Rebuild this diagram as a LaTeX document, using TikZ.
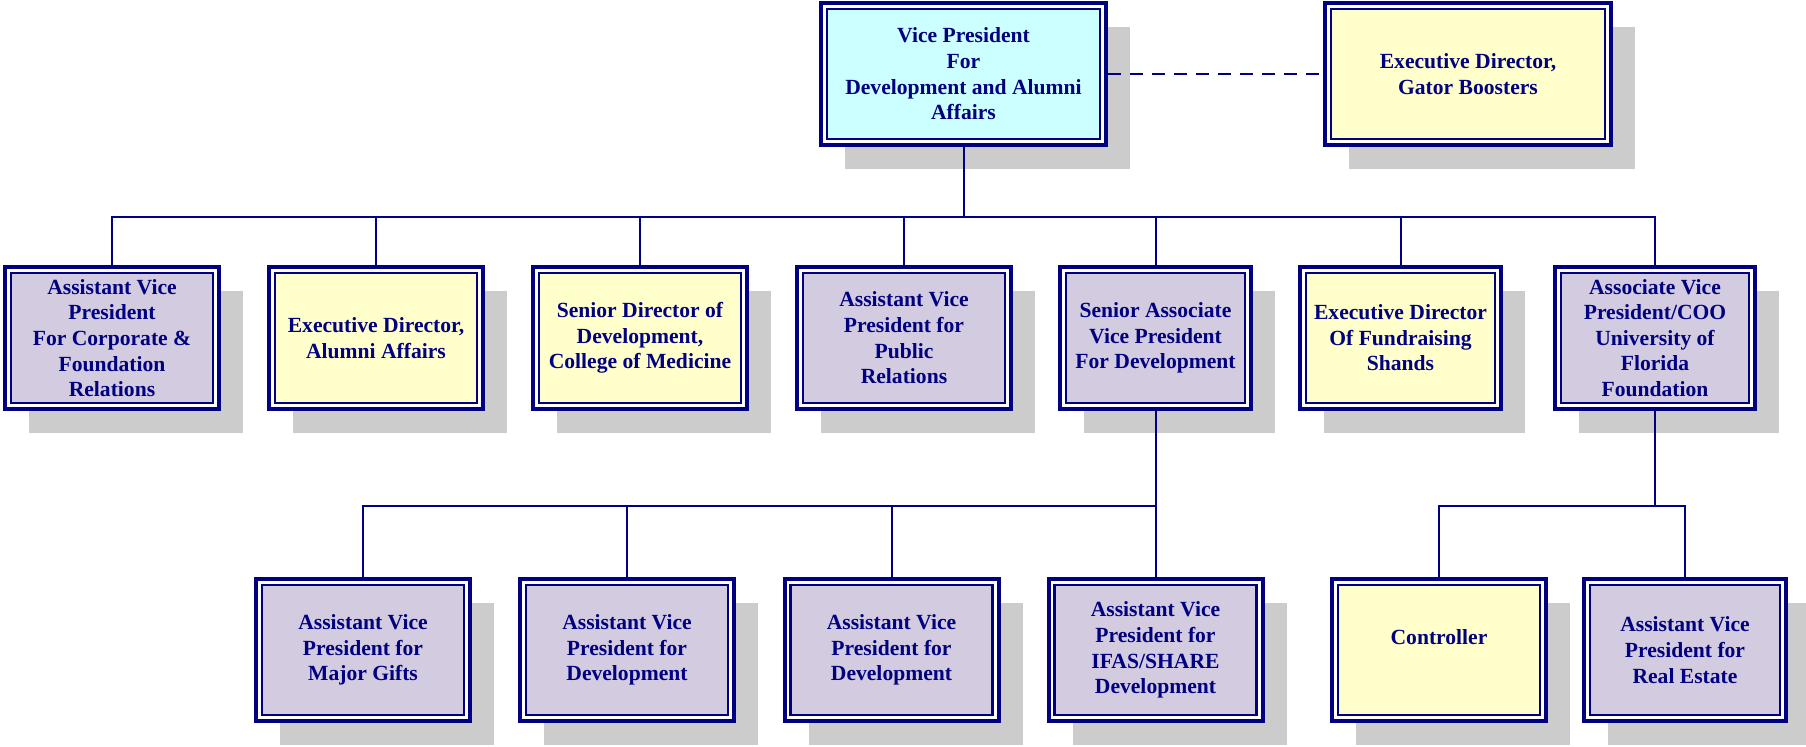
\documentclass[tikz,border=0pt]{standalone}
\usepackage{fontspec}
\setmainfont{Liberation Serif}
\usetikzlibrary{shadows}
\definecolor{navy}{RGB}{0,0,128}
\definecolor{lav}{RGB}{211,203,224}
\definecolor{ylw}{RGB}{255,255,204}
\definecolor{cyn}{RGB}{204,255,255}
\definecolor{shade}{RGB}{204,204,204}
\tikzset{
  box/.style={draw=navy, line width=2pt, fill=white, minimum width=107pt, minimum height=71pt,
    inner sep=2pt, align=center, text=navy, font=\bfseries\fontsize{10.8}{12.8}\selectfont,
    drop shadow={shadow xshift=12pt, shadow yshift=-12pt, fill=shade, opacity=1},
    path picture={\draw[navy, line width=1.3pt, fill=#1]
      ([shift={(3pt,3pt)}]path picture bounding box.south west) rectangle
      ([shift={(-3pt,-3pt)}]path picture bounding box.north east);}},
  conn/.style={draw=navy, line width=1pt}
}
\begin{document}
\begin{tikzpicture}[x=0.5pt,y=-0.5pt]
   \useasboundingbox (0,0) rectangle (1806,746);

   \node[box=cyn, minimum width=142.5pt] (vp) at (963.5,74) {Vice President\\For\\Development and Alumni\\Affairs};
   \node[box=ylw, minimum width=143pt] (gb) at (1468,74) {Executive Director,\\Gator Boosters};

   \node[box=lav] (a1) at (112,338) {Assistant Vice\\President\\For Corporate \&\\Foundation\\Relations};
   \node[box=ylw] (a2) at (376,338) {Executive Director,\\Alumni Affairs};
   \node[box=ylw] (a3) at (640,338) {Senior Director of\\Development,\\College of Medicine};
   \node[box=lav] (a4) at (904,338) {Assistant Vice\\President for\\Public\\Relations};
   \node[box=lav, minimum width=95.5pt] (a5) at (1155.5,338) {Senior Associate\\Vice President\\For Development};
   \node[box=ylw, minimum width=100.5pt] (a6) at (1400.5,338) {Executive Director\\Of Fundraising\\Shands};
   \node[box=lav, minimum width=100pt] (a7) at (1655,338) {Associate Vice\\President/COO\\University of\\Florida\\Foundation};

   \node[box=lav] (b1) at (363,650) {Assistant Vice\\President for\\Major Gifts};
   \node[box=lav] (b2) at (627,650) {Assistant Vice\\President for\\Development};
   \node[box=lav] (b3) at (891.5,650) {Assistant Vice\\President for\\Development};
   \node[box=lav] (b4) at (1155.5,650) {Assistant Vice\\President for\\IFAS/SHARE\\Development};
   \node[box=ylw, text height=7.5pt, text depth=13pt] (b5) at (1439,650) {Controller};
   \node[box=lav, minimum width=101pt] (b6) at (1685,650) {Assistant Vice\\President for\\Real Estate};

   \coordinate (t) at (963.5,217);
   \coordinate (u) at (1155.5,506);
   \coordinate (v) at (1655,506);

   \draw[conn, dash pattern=on 6.5pt off 4.5pt] (vp.east) -- (gb.west);
   \draw[conn] (vp.south) -- (t);
   \foreach \n in {a1,a2,a3,a4,a5,a6,a7}
     \draw[conn] (\n.north) |- (t);

   \draw[conn] (a5.south) -- (b4.north);
   \foreach \n in {b1,b2,b3}
     \draw[conn] (\n.north) |- (u);

   \draw[conn] (a7.south) -- (v);
   \draw[conn] (b5.north) |- (v);
   \draw[conn] (b6.north) |- (v);

\end{tikzpicture}
\end{document}
